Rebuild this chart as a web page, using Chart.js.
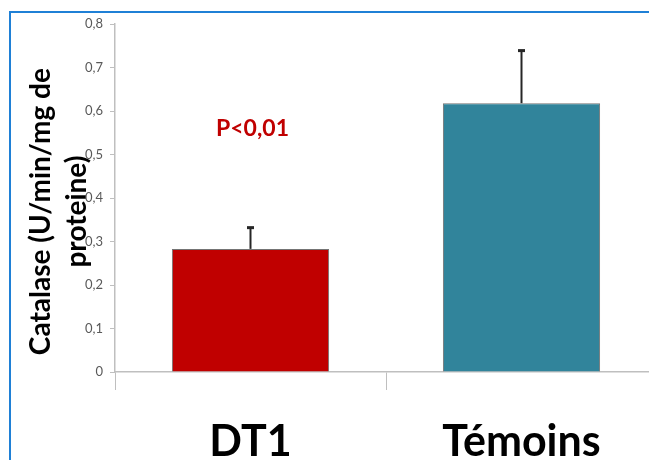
<!DOCTYPE html>
<html>
<head>
<meta charset="utf-8">
<script src="https://cdn.jsdelivr.net/npm/chart.js@4/dist/chart.umd.min.js"></script>
<style>
  html, body { margin: 0; padding: 0; background: #ffffff; overflow: hidden; }
  #wrap { position: relative; width: 649px; height: 460px; overflow: hidden; }
  #chart { position: absolute; left: 0; top: 0; }
  #frame {
    position: absolute; left: 9px; top: 11px; width: 700px; height: 500px;
    border-left: 2px solid #1f80d6; border-top: 2px solid #1f80d6;
    pointer-events: none;
  }
</style>
</head>
<body>
<div id="wrap">
  <canvas id="chart" width="660" height="460"></canvas>
  <div id="frame"></div>
</div>
<script>
// Catalase activity per group (U/min/mg of protein), with standard deviation
const groups = ['DT1', 'Témoins'];
const catalase = [0.283, 0.618];
const errors = [0.05, 0.122];
const barColors = ['#c00000', '#31849b'];
// trailing spaces nudge the rotated title slightly toward the axis origin
const yTitle = ['Catalase (U/min/mg de    ', 'proteine)    '];
const pLabel = 'P<0,01';

const fontFamily = 'Lato, "Open Sans", sans-serif';

// Upward-only error whiskers with a small cap
const errorBars = {
  id: 'errorBars',
  afterDatasetsDraw(chart) {
    const ctx = chart.ctx;
    const y = chart.scales.y;
    const meta = chart.getDatasetMeta(0);
    ctx.save();
    ctx.strokeStyle = '#262626';
    ctx.fillStyle = '#262626';
    ctx.lineWidth = 2;
    meta.data.forEach((bar, i) => {
      const yTop = y.getPixelForValue(catalase[i] + errors[i]);
      const yBase = y.getPixelForValue(catalase[i]);
      ctx.beginPath();
      ctx.moveTo(bar.x, yBase);
      ctx.lineTo(bar.x, yTop);
      ctx.stroke();
      ctx.fillRect(bar.x - 3.5, yTop - 1, 7, 3);
    });
    ctx.restore();
  }
};

// Significance note above the DT1 bar
const pNote = {
  id: 'pNote',
  afterDatasetsDraw(chart) {
    const ctx = chart.ctx;
    const x = chart.scales.x.getPixelForValue(0) + 2;
    const yPix = chart.scales.y.getPixelForValue(0.56);
    ctx.save();
    ctx.font = 'bold 23px ' + fontFamily;
    ctx.fillStyle = '#c00000';
    ctx.textAlign = 'center';
    ctx.textBaseline = 'middle';
    ctx.fillText(pLabel, x, yPix);
    ctx.restore();
  }
};

new Chart(document.getElementById('chart'), {
  type: 'bar',
  data: {
    labels: groups,
    datasets: [{
      data: catalase,
      backgroundColor: barColors,
      borderColor: 'rgba(70,70,70,0.75)',
      borderWidth: 1,
      barPercentage: 0.58,
      categoryPercentage: 1.0
    }]
  },
  options: {
    responsive: false,
    animation: false,
    devicePixelRatio: 1,
    layout: { padding: { left: 10, top: 24, right: 3, bottom: 0 } },
    plugins: {
      legend: { display: false },
      tooltip: { enabled: false }
    },
    scales: {
      x: {
        afterFit(scale) { scale.height = 88; },
        grid: {
          display: true,
          drawOnChartArea: false,
          drawTicks: true,
          tickLength: 18,
          color: '#bfbfbf',
          offset: true
        },
        border: { display: true, color: '#bfbfbf', width: 1.5 },
        ticks: {
          color: '#000000',
          padding: 26,
          font: { family: fontFamily, size: 43, weight: 'bold' }
        }
      },
      y: {
        min: 0,
        max: 0.8,
        afterFit(scale) { scale.width = 105; },
        grid: {
          display: true,
          drawOnChartArea: false,
          tickLength: 5,
          color: '#bfbfbf'
        },
        border: { display: true, color: '#bfbfbf', width: 1.5 },
        ticks: {
          stepSize: 0.1,
          padding: 7,
          color: '#595959',
          font: { family: fontFamily, size: 13 },
          callback: (v) => String(Math.round(v * 10) / 10).replace('.', ',')
        },
        title: {
          display: true,
          text: yTitle,
          color: '#000000',
          padding: { top: 13, bottom: 0 },
          font: { family: fontFamily, size: 28, weight: 'bold', lineHeight: 1.29 }
        }
      }
    }
  },
  plugins: [errorBars, pNote]
});
</script>
</body>
</html>
